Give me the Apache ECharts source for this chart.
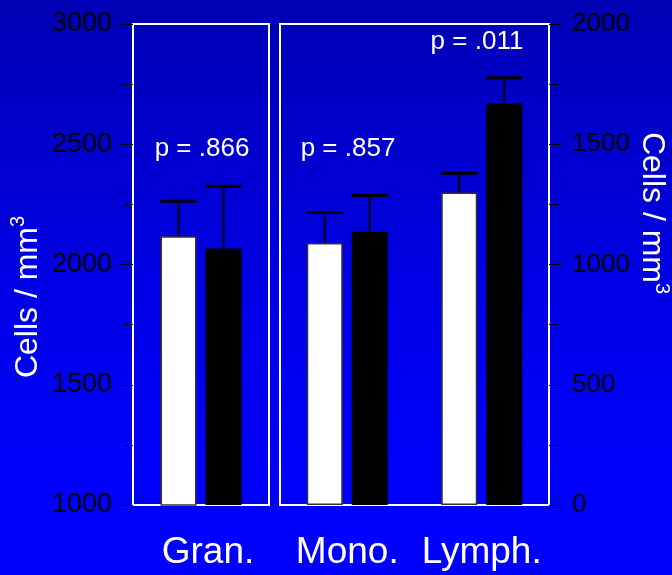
<!DOCTYPE html>
<html>
<head>
<meta charset="utf-8">
<script src="https://cdn.jsdelivr.net/npm/echarts@6/dist/echarts.min.js"></script>
<style>
html,body{margin:0;padding:0;background:#0000ff;}
#c{width:672px;height:575px;}
</style>
</head>
<body>
<div id="c"></div>
<script>
// ---- data ----
const leftCategories = ['Gran.'];
const rightCategories = ['Mono.', 'Lymph.'];
// Gran. on left axis (1000–3000), Mono./Lymph. on right axis (0–2000)
const granWhite = [2117];
const granBlack = [2067];
const granWhiteErr = [146];
const granBlackErr = [258];
const rightWhite = [1089, 1299];
const rightBlack = [1136, 1670];
const rightWhiteErr = [127, 80];
const rightBlackErr = [151, 107];
const pLabels = ['p = .866', 'p = .857', 'p = .011'];
const leftTicks = [1000, 1500, 2000, 2500, 3000];
const rightTicks = [0, 500, 1000, 1500, 2000];
const axisTitle = 'Cells / mm{sup|3}';

const FONT = '"Liberation Sans", Arial, Helvetica, sans-serif';
const BAR_W = 36, GAP = 9, OFF = (BAR_W + GAP) / 2;

function errSeries(name, xi, yi, vals, errs, offset) {
  return {
    type: 'custom', name: name, xAxisIndex: xi, yAxisIndex: yi, z: 5,
    data: vals.map((v, i) => [i, v, v + errs[i]]),
    renderItem: function (params, api) {
      const base = api.coord([api.value(0), api.value(1)]);
      const top = api.coord([api.value(0), api.value(2)]);
      const x = base[0] + offset;
      return {
        type: 'group',
        children: [
          { type: 'line', shape: { x1: x, y1: base[1], x2: x, y2: top[1] }, style: { stroke: '#000', lineWidth: 2 } },
          { type: 'line', shape: { x1: x - BAR_W / 2, y1: top[1], x2: x + BAR_W / 2, y2: top[1] }, style: { stroke: '#000', lineWidth: 3 } }
        ]
      };
    }
  };
}

const chart = echarts.init(document.getElementById('c'), null, { renderer: 'canvas' });
const yCommon = {
  type: 'value', interval: 500,
  axisLine: { show: false },
  splitLine: { show: false },
  axisTick: { show: true, length: 12, lineStyle: { color: '#000', width: 1 } },
  minorTick: { show: true, splitNumber: 2, length: 9, lineStyle: { color: '#000', width: 1 } }
};
const plain = v => String(v);
chart.setOption({
  backgroundColor: {
    type: 'linear', x: 0, y: 0, x2: 0, y2: 1,
    colorStops: [
      { offset: 0, color: '#0000b4' },
      { offset: 0.5, color: '#0000e6' },
      { offset: 0.8, color: '#0000fc' },
      { offset: 1, color: '#0000ff' }
    ]
  },
  animation: false,
  grid: [
    { left: 133, top: 24, width: 136, height: 481, show: true, borderColor: '#ffffff', borderWidth: 2, backgroundColor: 'transparent' },
    { left: 280, top: 24, width: 269, height: 481, show: true, borderColor: '#ffffff', borderWidth: 2, backgroundColor: 'transparent' }
  ],
  xAxis: [
    { type: 'category', gridIndex: 0, data: leftCategories, axisLine: { show: false }, axisTick: { show: false },
      axisLabel: { interval: 0, color: '#fff', fontSize: 37, fontFamily: FONT, margin: 29, padding: [0, 0, 0, 14] } },
    { type: 'category', gridIndex: 1, data: rightCategories, axisLine: { show: false }, axisTick: { show: false },
      axisLabel: { interval: 0, hideOverlap: false, color: '#fff', fontSize: 37, fontFamily: FONT, margin: 29 } }
  ],
  yAxis: [
    Object.assign({}, yCommon, { gridIndex: 0, position: 'left', min: leftTicks[0], max: leftTicks[leftTicks.length - 1],
      axisLabel: { formatter: plain, color: '#000', fontSize: 27, fontFamily: FONT, margin: 21, padding: [0, 0, 8, 0] } }),
    Object.assign({}, yCommon, { gridIndex: 1, position: 'right', min: rightTicks[0], max: rightTicks[rightTicks.length - 1],
      axisLabel: { formatter: plain, color: '#000', fontSize: 26, fontFamily: FONT, margin: 23 } })
  ],
  series: [
    { type: 'bar', name: 'white', xAxisIndex: 0, yAxisIndex: 0, data: granWhite, barWidth: BAR_W, barGap: '25%',
      itemStyle: { color: '#ffffff', borderColor: '#333333', borderWidth: 1.5 } },
    { type: 'bar', name: 'black', xAxisIndex: 0, yAxisIndex: 0, data: granBlack, barWidth: BAR_W, barGap: '25%',
      itemStyle: { color: '#000000' } },
    { type: 'bar', name: 'white', xAxisIndex: 1, yAxisIndex: 1, data: rightWhite, barWidth: BAR_W, barGap: '25%',
      itemStyle: { color: '#ffffff', borderColor: '#333333', borderWidth: 1.5 } },
    { type: 'bar', name: 'black', xAxisIndex: 1, yAxisIndex: 1, data: rightBlack, barWidth: BAR_W, barGap: '25%',
      itemStyle: { color: '#000000' } },
    errSeries('errW0', 0, 0, granWhite, granWhiteErr, -OFF),
    errSeries('errB0', 0, 0, granBlack, granBlackErr, OFF),
    errSeries('errW1', 1, 1, rightWhite, rightWhiteErr, -OFF),
    errSeries('errB1', 1, 1, rightBlack, rightBlackErr, OFF)
  ],
  graphic: [
    { type: 'text', x: 28, y: 297, rotation: Math.PI / 2,
      style: { text: axisTitle, fill: '#fff', font: '32px ' + FONT, align: 'center', verticalAlign: 'middle',
        rich: { sup: { fontSize: 20, fontFamily: FONT, fill: '#fff', verticalAlign: 'top', lineHeight: 40 } } } },
    { type: 'text', x: 652, y: 213, rotation: -Math.PI / 2,
      style: { text: axisTitle, fill: '#fff', font: '32px ' + FONT, align: 'center', verticalAlign: 'middle',
        rich: { sup: { fontSize: 20, fontFamily: FONT, fill: '#fff', verticalAlign: 'top', lineHeight: 40 } } } },
    { type: 'text', x: 202, y: 149, style: { text: pLabels[0], fill: '#fff', font: '26px ' + FONT, align: 'center', verticalAlign: 'middle' } },
    { type: 'text', x: 348, y: 149, style: { text: pLabels[1], fill: '#fff', font: '26px ' + FONT, align: 'center', verticalAlign: 'middle' } },
    { type: 'text', x: 477, y: 42, style: { text: pLabels[2], fill: '#fff', font: '26px ' + FONT, align: 'center', verticalAlign: 'middle' } }
  ]
});
</script>
</body>
</html>
